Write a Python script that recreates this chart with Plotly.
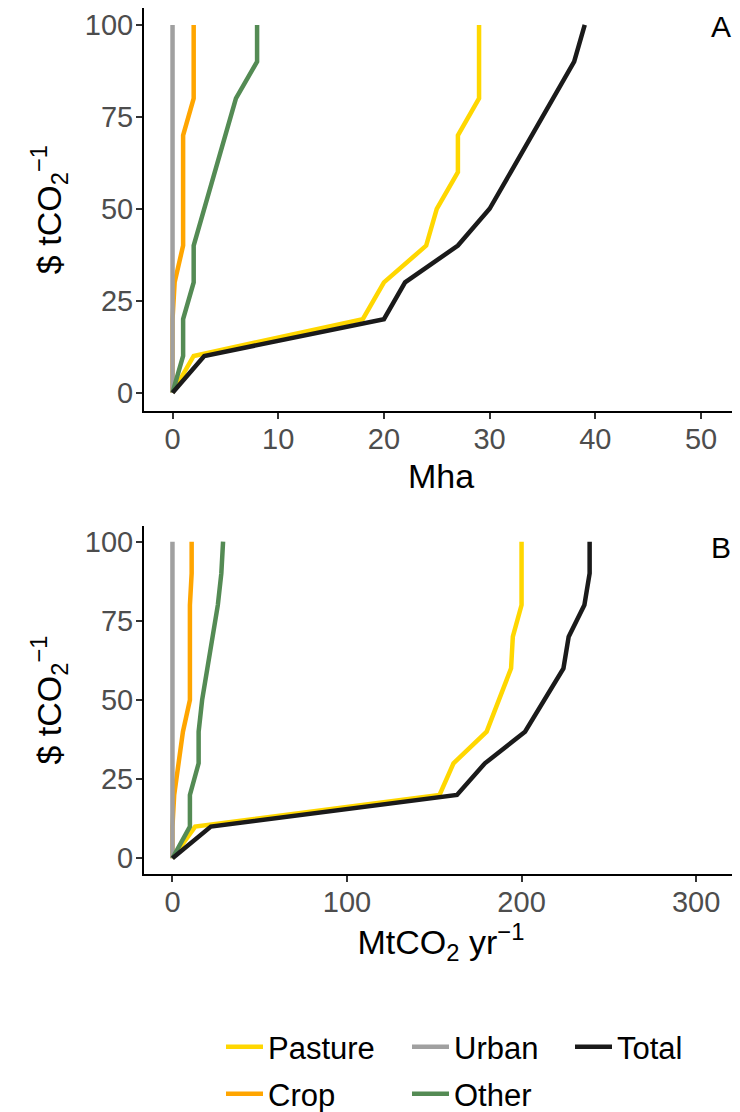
import plotly.graph_objects as go

# Carbon price levels ($ tCO2^-1)
price = [0, 10, 20, 30, 40, 50, 60, 70, 80, 90, 100]

# Panel A: area (Mha)
area_pasture = [0, 2, 18, 20, 24, 25, 27, 27, 29, 29, 29]
area_crop = [0, 0, 0, 0.2, 1, 1, 1, 1, 2, 2, 2]
area_urban = [0, 0, 0, 0, 0, 0, 0, 0, 0, 0, 0]
area_other = [0, 1, 1, 2, 2, 3, 4, 5, 6, 8, 8]
area_total = [0, 3, 20, 22, 27, 30, 32, 34, 36, 38, 39]

# Panel B: emissions (MtCO2 yr^-1)
emis_pasture = [0, 13, 153, 161, 180, 187, 194, 195, 200, 200, 200]
emis_crop = [0, 0, 1, 3.5, 6, 10, 10, 10, 10, 11, 11]
emis_urban = [0, 0, 0, 0, 0, 0, 0, 0, 0, 0, 0]
emis_other = [0, 10, 10, 15, 15, 17, 20, 23, 26, 28, 29]
emis_total = [0, 22, 163, 179, 202, 213, 224, 227, 236, 239, 239]

series_names = ["Pasture", "Crop", "Urban", "Other", "Total"]
area = {"Pasture": area_pasture, "Crop": area_crop, "Urban": area_urban,
        "Other": area_other, "Total": area_total}
emis = {"Pasture": emis_pasture, "Crop": emis_crop, "Urban": emis_urban,
        "Other": emis_other, "Total": emis_total}
colors = {"Pasture": "#FFD700", "Crop": "#FFA500", "Urban": "#A0A0A0",
          "Other": "#548B54", "Total": "#1A1A1A"}
# legend rows: row 1 -> legend, row 2 -> legend2
legend_row = {"Pasture": "legend", "Urban": "legend", "Total": "legend",
              "Crop": "legend2", "Other": "legend2"}
legend_rank = {"Pasture": 1, "Urban": 2, "Total": 3, "Crop": 1, "Other": 2}
legend_w = {"Pasture": 134, "Urban": 111, "Total": 90, "Crop": 134, "Other": 90}

FONT = "Arial, Liberation Sans, sans-serif"

# page body has an 8px offset; figure laid out in window coords minus 8
W, H = 732, 1104
OFF = 8


def px_x(v):
    return (v - OFF) / W


def px_y(v):
    return 1 - (v - OFF) / H


fig = go.Figure()
for name in series_names:
    fig.add_trace(go.Scatter(
        x=area[name], y=price, xaxis="x", yaxis="y", mode="lines",
        line=dict(color=colors[name], width=4.5), name=name,
        legend=legend_row[name], legendrank=legend_rank[name],
        legendwidth=legend_w[name], showlegend=True))
for name in series_names:
    fig.add_trace(go.Scatter(
        x=emis[name], y=price, xaxis="x2", yaxis="y2", mode="lines",
        line=dict(color=colors[name], width=4.5), name=name,
        showlegend=False))

axis_common = dict(
    showline=True, linecolor="black", linewidth=2, ticks="outside",
    ticklen=6, tickwidth=2, tickcolor="#333333", showgrid=False,
    zeroline=False, automargin=False,
    tickfont=dict(family=FONT, size=29, color="#4D4D4D"),
    title_font=dict(family=FONT, size=34, color="black"),
)

legend_common = dict(
    orientation="h", xanchor="left", yanchor="middle",
    font=dict(family=FONT, size=31, color="black"),
    traceorder="normal", itemwidth=37, bgcolor="rgba(0,0,0,0)",
    borderwidth=0, tracegroupgap=0,
)

fig.update_layout(
    template="none",
    width=W, height=H,
    margin=dict(l=0, r=0, t=0, b=0, autoexpand=False),
    paper_bgcolor="white", plot_bgcolor="white",
    font=dict(family=FONT, color="black"),
    xaxis=dict(domain=[px_x(144), px_x(738)], anchor="y", range=[-2.7, 53.5],
               tickvals=[0, 10, 20, 30, 40, 50], ticklabelstandoff=-5,
               title=dict(text="Mha", standoff=10), **axis_common),
    yaxis=dict(domain=[px_y(411.1), 1], anchor="x", range=[-5.0, 104.6],
               tickvals=[0, 25, 50, 75, 100], ticklabelstandoff=-3,
               title=dict(text="$ tCO<sub>2</sub><sup>−1</sup>", standoff=13),
               **axis_common),
    xaxis2=dict(domain=[px_x(144), px_x(738)], anchor="y2", range=[-16.3, 324],
                tickvals=[0, 100, 200, 300], ticklabelstandoff=-5,
                title=dict(text="MtCO<sub>2</sub> yr<sup>−1</sup>", standoff=10),
                **axis_common),
    yaxis2=dict(domain=[px_y(874.1), px_y(525.9)], anchor="x2", range=[-5, 105],
                tickvals=[0, 25, 50, 75, 100], ticklabelstandoff=-3,
                title=dict(text="$ tCO<sub>2</sub><sup>−1</sup>", standoff=13),
                **axis_common),
    legend=dict(x=px_x(221), y=px_y(1047), **legend_common),
    legend2=dict(x=px_x(221), y=px_y(1094), **legend_common),
    annotations=[
        dict(text="A", xref="paper", yref="paper", x=px_x(733), y=1,
             xanchor="right", yanchor="top", showarrow=False,
             font=dict(family=FONT, size=30, color="black")),
        dict(text="B", xref="paper", yref="paper", x=px_x(733), y=px_y(547),
             xanchor="right", yanchor="middle", showarrow=False,
             font=dict(family=FONT, size=30, color="black")),
    ],
)

fig.write_html("out.html")
